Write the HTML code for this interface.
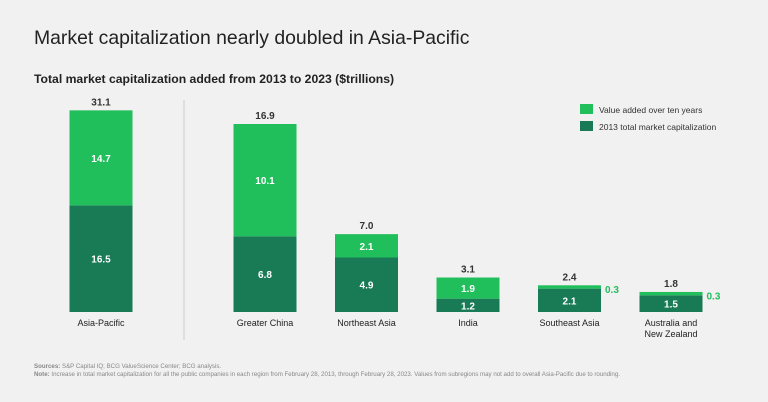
<!DOCTYPE html>
<html><head><meta charset="utf-8"><style>
body{margin:0;background:#f1f1f1;font-family:"Liberation Sans",sans-serif;}
#wrap{position:relative;width:768px;height:402px;background:#f1f1f1;overflow:hidden}
</style></head><body>
<div id="wrap">
<svg id="chart" width="768" height="402">
<text x="34" y="44" font-size="19.4" fill="#222">Market capitalization nearly doubled in Asia-Pacific</text>
<text x="34" y="83" font-size="12.2" font-weight="bold" fill="#222">Total market capitalization added from 2013 to 2023 ($trillions)</text>
<line x1="184" y1="100" x2="184" y2="340" stroke="#ccc"/>
<rect x="580" y="104" width="13" height="10" fill="#21bf5b"/>
<text x="599" y="113" font-size="8.5" fill="#333">Value added over ten years</text>
<rect x="580" y="121" width="13" height="10" fill="#197a56"/>
<text x="599" y="130" font-size="8.5" fill="#333">2013 total market capitalization</text>
<text x="34" y="368" font-size="6.15" fill="#888"><tspan font-weight="bold">Sources:</tspan> S&amp;P Capital IQ; BCG ValueScience Center; BCG analysis.</text>
<text x="34" y="376" font-size="6.15" fill="#888"><tspan font-weight="bold">Note:</tspan> Increase in total market capitalization for all the public companies in each region from February 28, 2013, through February 28, 2023. Values from subregions may not add to overall Asia-Pacific due to rounding.</text>
<g id="bars"></g>
</svg>
</div>
<script>
const categories=["Asia-Pacific","Greater China","Northeast Asia","India","Southeast Asia","Australia and|New Zealand"];
const base2013=[16.5,6.8,4.9,1.2,2.1,1.5];
const added=[14.7,10.1,2.1,1.9,0.3,0.3];
const totals=[31.1,16.9,7.0,3.1,2.4,1.8];
const NS="http://www.w3.org/2000/svg";
const g=document.getElementById('bars');
const baseY=312;
function yScale(i,v){return (i===0?201/31.1:188/16.9)*v;}
function xCenter(i){return i===0?101:265+(i-1)*101.5;}
function mk(t,a){const e=document.createElementNS(NS,t);for(const k in a)e.setAttribute(k,a[k]);g.appendChild(e);return e;}
categories.forEach((c,i)=>{
 const cx=xCenter(i),w=63,x=cx-w/2;
 const hd=yScale(i,base2013[i]),ha=yScale(i,added[i]);
 const r1=mk('rect',{x:x,y:baseY-hd,width:w,height:hd,fill:'#197a56'});
 
 
 const r2=mk('rect',{x:x,y:baseY-hd-ha,width:w,height:ha,fill:'#21bf5b'});
 
 
 const t1=mk('text',{x:cx,y:baseY-hd/2+4,'font-size':10,'font-weight':'bold',fill:'#fff','text-anchor':'middle'});
 t1.textContent=base2013[i].toFixed(1);
 
 
 const small=ha<15;
 const t2=mk('text',small?{x:x+w+4,y:baseY-hd-ha/2+6,'font-size':10,'font-weight':'bold',fill:'#21bf5b'}:{x:cx,y:baseY-hd-ha/2+4,'font-size':10,'font-weight':'bold',fill:'#fff','text-anchor':'middle'});
 t2.textContent=added[i].toFixed(1);
 
 
 const t3=mk('text',{x:cx,y:baseY-hd-ha-5,'font-size':10,'font-weight':'bold',fill:'#333','text-anchor':'middle'});
 t3.textContent=totals[i].toFixed(1);
 
 
 c.split('|').forEach((ln,j)=>{
  const t=mk('text',{x:cx,y:326+j*11,'font-size':9,fill:'#222','text-anchor':'middle'});
  t.textContent=ln;
  
  
 });
});
</script>
</body></html>
